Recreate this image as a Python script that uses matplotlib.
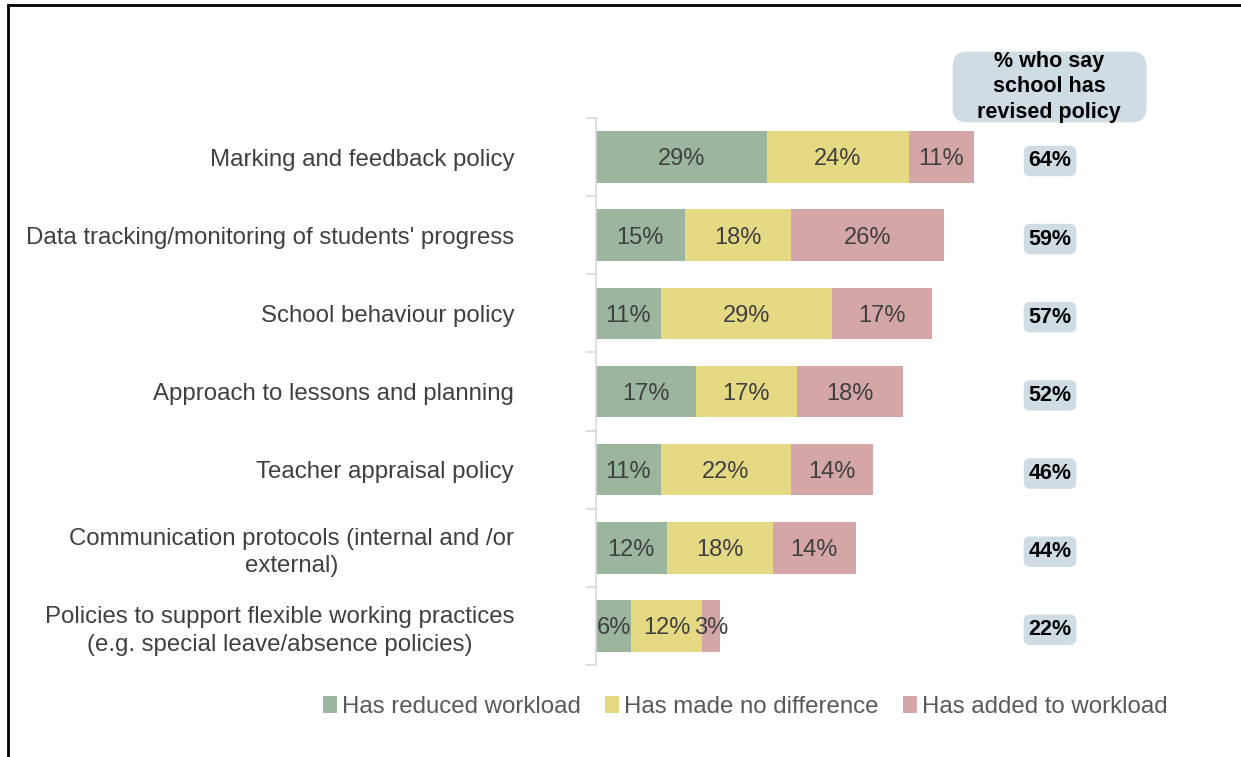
import matplotlib.pyplot as plt
from matplotlib.patches import Rectangle, FancyBboxPatch
import numpy as np

plt.rcParams['font.family'] = ['Liberation Sans', 'DejaVu Sans']

categories = [
    "Marking and feedback policy",
    "Data tracking/monitoring of students' progress",
    "School behaviour policy",
    "Approach to lessons and planning",
    "Teacher appraisal policy",
    "Communication protocols (internal and /or\nexternal)",
    "Policies to support flexible working practices\n(e.g. special leave/absence policies)",
]
reduced = [29, 15, 11, 17, 11, 12, 6]
no_diff = [24, 18, 29, 17, 22, 18, 12]
added = [11, 26, 17, 18, 14, 14, 3]
revised = [64, 59, 57, 52, 46, 44, 22]

series_names = ["Has reduced workload", "Has made no difference", "Has added to workload"]
colors = ["#9BB59F", "#E6D983", "#D4A6A7"]
text_col = "#404040"

W, H = 1241, 757
fig = plt.figure(figsize=(W / 100, H / 100), dpi=100)

# outer frame (only top and left edges fall inside the picture)
fig.add_artist(Rectangle((8 / W, -0.1), 1.2, 1 - 5 / H + 0.1, transform=fig.transFigure,
                         fill=False, edgecolor="black", linewidth=2))

ax_left = 596 / W
ax_top = 1 - 118 / H
ax_bot = 1 - 665 / H
ax = fig.add_axes([ax_left, ax_bot, 1 - ax_left, ax_top - ax_bot])

px_per_pct = 5.9
ax.set_xlim(0, (W - 596) / px_per_pct)
n = len(categories)
ax.set_ylim(n - 0.5, -0.5)
y = np.arange(n)

left = np.zeros(n)
for vals, col, name in zip([reduced, no_diff, added], colors, series_names):
    ax.barh(y, vals, left=left, height=0.66, color=col, label=name)
    for yi, l, v in zip(y, left, vals):
        ax.text(l + v / 2, yi + 0.03, f"{v}%", ha="center", va="center", fontsize=17, color=text_col)
    left = left + np.array(vals)

# revised policy column
xr = (1050 - 596) / px_per_pct
for yi, v in zip(y, revised):
    ax.text(xr, yi + 0.05, f"{v}%", ha="center", va="center", fontsize=15.5,
            fontweight="bold", color="black",
            bbox=dict(boxstyle="round,pad=0.22,rounding_size=0.3", fc="#D0DCE3", ec="none"))

# header box for the revised-policy column
fig.add_artist(FancyBboxPatch((960 / W, 1 - 115 / H), 179 / W, 56 / H,
                              boxstyle="round,pad=0.006,rounding_size=0.012",
                              transform=fig.transFigure, fc="#D0DCE3", ec="none",
                              mutation_aspect=W / H))
fig.text(1049 / W, 1 - 87 / H, "% who say\nschool has\nrevised policy", ha="center", va="center",
         fontsize=15.5, fontweight="bold", color="black", linespacing=1.3)

for s in ["top", "right", "bottom"]:
    ax.spines[s].set_visible(False)
ax.spines["left"].set_color("#D9D9D9")
ax.spines["left"].set_linewidth(1.2)
ax.set_xticks([])
ax.set_yticks(y)
ax.set_yticklabels(categories, fontsize=17.3, color=text_col, multialignment="center",
                   linespacing=1.3)
ax.tick_params(axis="y", which="major", length=0, pad=59)
ax.set_yticks(np.arange(n + 1) - 0.5, minor=True)
ax.tick_params(axis="y", which="minor", length=7, color="#D9D9D9", width=1.2)

fig.legend(loc="center", bbox_to_anchor=(745 / W, 1 - 707 / H), ncol=3, frameon=False,
           fontsize=17.3, labelcolor="#595959", handlelength=0.6, handleheight=0.7,
           handletextpad=0.2, columnspacing=1.0)

fig.savefig("out.png", dpi=100)
